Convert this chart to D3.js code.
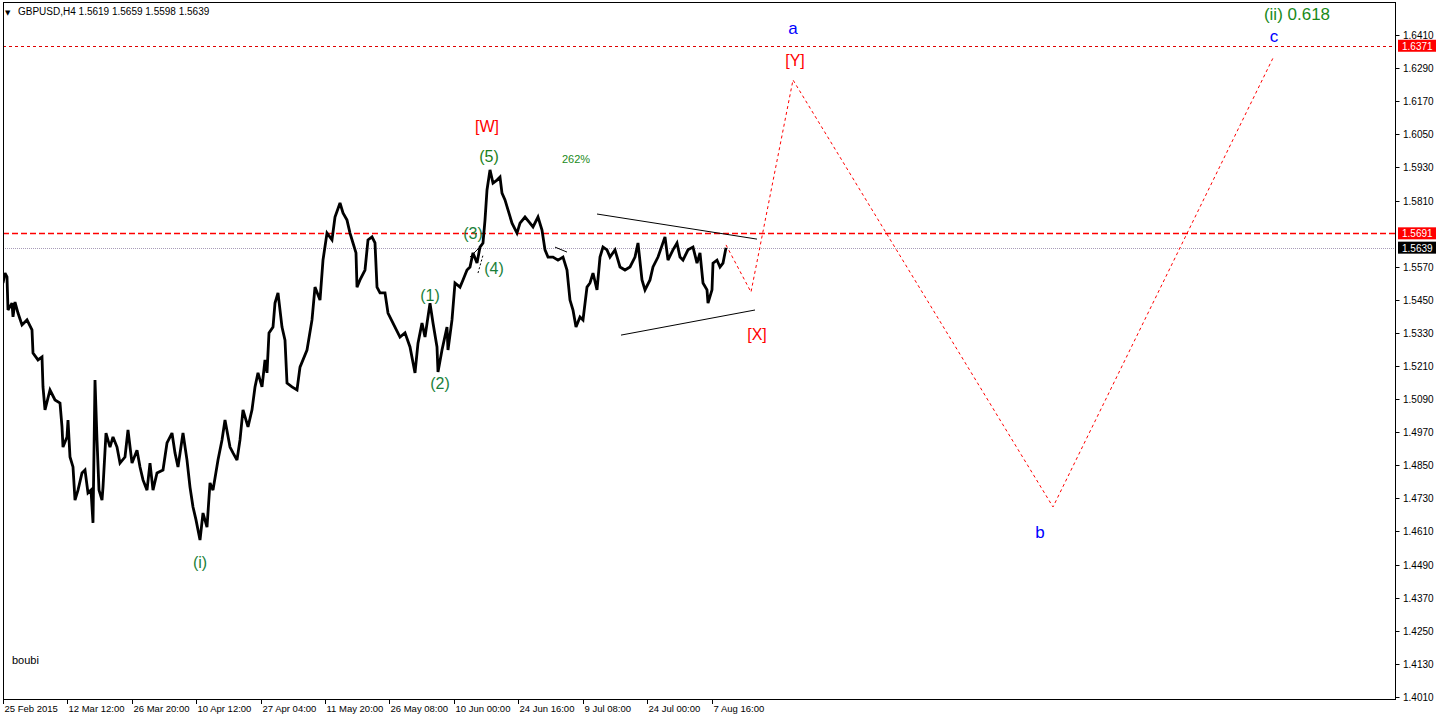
<!DOCTYPE html>
<html><head><meta charset="utf-8">
<script src="https://cdn.jsdelivr.net/npm/d3@7"></script>
<style>html,body{margin:0;padding:0;background:#fff;}svg{display:block;}</style>
</head><body>
<script>
// ---- DATA ----
const symbolTitle = "GBPUSD,H4  1.5619 1.5659 1.5598 1.5639";
const priceBars = [0,2,4,5,9,10,12,15,19,24,29,30,35,39,40,42,47,52,57,59,60,64,65,67,70,72,75,79,82,85,88,90,92,94,96,99,100,103,107,110,114,117,122,125,129,134,137,140,144,147,150,154,160,164,169,172,175,180,184,187,190,193,197,200,204,207,210,215,219,222,227,230,234,237,240,245,249,252,255,259,262,264,266,270,272,275,279,282,284,289,294,297,304,309,312,317,320,324,329,332,337,340,344,347,350,353,354,357,362,365,369,372,374,377,382,385,392,397,402,407,412,415,419,422,427,430,434,435,439,444,445,449,452,457,460,464,467,470,474,477,480,482,484,487,490,494,497,499,502,505,509,514,517,522,527,530,535,539,542,545,550,555,560,564,567,570,573,577,580,584,587,590,594,597,600,604,607,612,617,622,627,632,635,639,642,647,650,655,662,665,670,674,677,680,685,690,694,697,700,704,705,709,710,714,717,720,723];
const priceValues = [1.5511,1.5547,1.5533,1.5413,1.5438,1.5388,1.5442,1.5402,1.5359,1.5377,1.5341,1.5257,1.5232,1.5243,1.5134,1.5051,1.5123,1.5087,1.5076,1.4989,1.4916,1.4953,1.5014,1.4880,1.4844,1.4724,1.4760,1.4822,1.4833,1.4750,1.4760,1.4641,1.5159,1.4942,1.4760,1.4724,1.4771,1.4967,1.4916,1.4953,1.4916,1.4858,1.4880,1.4978,1.4858,1.4905,1.4844,1.4797,1.4760,1.4858,1.4760,1.4822,1.4833,1.4931,1.4967,1.4895,1.4844,1.4967,1.4869,1.4771,1.4699,1.4652,1.4579,1.4677,1.4626,1.4786,1.4760,1.4869,1.4942,1.5014,1.4916,1.4895,1.4869,1.4942,1.5051,1.4989,1.5051,1.5134,1.5185,1.5134,1.5232,1.5185,1.5330,1.5351,1.5438,1.5475,1.5351,1.5304,1.5148,1.5134,1.5123,1.5206,1.5268,1.5377,1.5496,1.5449,1.5594,1.5692,1.5667,1.5750,1.5801,1.5765,1.5739,1.5692,1.5656,1.5620,1.5496,1.5522,1.5558,1.5667,1.5678,1.5656,1.5496,1.5475,1.5475,1.5402,1.5351,1.5315,1.5330,1.5279,1.5185,1.5293,1.5366,1.5315,1.5438,1.5366,1.5279,1.5188,1.5268,1.5351,1.5268,1.5377,1.5511,1.5496,1.5522,1.5558,1.5569,1.5620,1.5583,1.5641,1.5656,1.5739,1.5848,1.5921,1.5873,1.5884,1.5895,1.5837,1.5812,1.5776,1.5728,1.5692,1.5728,1.5750,1.5728,1.5714,1.5750,1.5703,1.5631,1.5605,1.5605,1.5594,1.5605,1.5558,1.5449,1.5413,1.5351,1.5388,1.5377,1.5496,1.5511,1.5547,1.5486,1.5605,1.5641,1.5631,1.5605,1.5631,1.5569,1.5558,1.5569,1.5605,1.5656,1.5522,1.5486,1.5522,1.5569,1.5605,1.5678,1.5594,1.5631,1.5656,1.5605,1.5594,1.5631,1.5641,1.5583,1.5620,1.5511,1.5486,1.5438,1.5486,1.5583,1.5594,1.5569,1.5583,1.5639];

const projBars = [723,748,790,1050,1271];
const projValues = [1.5649,1.5478,1.6247,1.4699,1.6334];

const trendLines = [
  {bars:[594,754], values:[1.5761,1.5670], dash:null},
  {bars:[618,752], values:[1.5322,1.5413], dash:null},
  {bars:[467,479], values:[1.5605,1.5649], dash:null},
  {bars:[475,480], values:[1.5547,1.5612], dash:"2,2"},
  {bars:[552,564], values:[1.5641,1.5623], dash:null}
];

const levelRed1 = 1.6371, levelRed2 = 1.5691, bidLevel = 1.5639;
const priceTicks = [1.6410,1.6290,1.6170,1.6050,1.5930,1.5810,1.5570,1.5450,1.5330,1.5210,1.5090,1.4970,1.4850,1.4730,1.4610,1.4490,1.4370,1.4250,1.4130,1.4010];
const dateTickBars = [0,64,129,193,258,322,386,451,515,580,644,709];
const dateTickLabels = ["25 Feb 2015","12 Mar 12:00","26 Mar 20:00","10 Apr 12:00","27 Apr 04:00","11 May 20:00","26 May 08:00","10 Jun 00:00","24 Jun 16:00","9 Jul 08:00","24 Jul 00:00","7 Aug 16:00"];

const labelTexts  = ["a","[Y]","(ii)  0.618","c","[W]","(5)","262%","(3)","(4)","(1)","(2)","[X]","b","(i)"];
const labelBars   = [790,792,1294,1271,484,486,573,470,491,427,437,754,1037,197];
const labelValues = [1.6432,1.6316,1.6486,1.6403,1.6080,1.5971,1.5960,1.5689,1.5562,1.5467,1.5148,1.5326,1.4608,1.4499];
const labelColors = ["#0000ff","#ff0000","#1a8a1a","#0000ff","#ff0000","#1a7f1a","#1a8a1a","#1a7f3a","#1a7f3a","#1a7f3a","#1a7f3a","#ff0000","#0000ff","#1a7f3a"];
const labelSizes  = [17,16,17,17,16,16,11,16,16,16,16,16,17,16];

// ---- LAYOUT ----
const W = 1436, H = 717;
const L = 3, R = 1395, T = 2, B = 699;
const x = d3.scaleLinear().domain([0, R - L]).range([L, R]);
const y = d3.scaleLinear().domain([1.4010, 1.6410]).range([697, 35]);

const svg = d3.select("body").append("svg").attr("width", W).attr("height", H)
  .style("font-family", "'Liberation Sans', Arial, sans-serif");
svg.append("rect").attr("width", W).attr("height", H).attr("fill", "#fff");

svg.append("clipPath").attr("id","clip").append("rect")
  .attr("x", L).attr("y", T).attr("width", R - L).attr("height", B - T);
const plot = svg.append("g").attr("clip-path","url(#clip)");

// horizontal levels
plot.append("line").attr("x1", L).attr("x2", R).attr("y1", Math.round(y(levelRed1))+0.5).attr("y2", Math.round(y(levelRed1))+0.5)
  .attr("stroke", "#e00000").attr("stroke-dasharray", "3,3").attr("stroke-width", 1);
plot.append("line").attr("x1", L).attr("x2", R).attr("y1", Math.round(y(levelRed2))+0.5).attr("y2", Math.round(y(levelRed2))+0.5)
  .attr("stroke", "#ff0000").attr("stroke-dasharray", "6,3").attr("stroke-width", 1.3);
plot.append("line").attr("x1", L).attr("x2", R).attr("y1", Math.round(y(bidLevel))+0.5).attr("y2", Math.round(y(bidLevel))+0.5)
  .attr("stroke", "#a89cb8").attr("stroke-dasharray", "1,1").attr("stroke-width", 1);

// price series
const pts = priceBars.map((b, i) => [b, priceValues[i]]);
const line = d3.line().x(d => x(d[0])).y(d => y(d[1]));
plot.append("path").datum(pts).attr("d", line).attr("fill", "none")
  .attr("stroke", "#000").attr("stroke-width", 2.8).attr("stroke-linejoin", "miter").attr("stroke-miterlimit", 3);

// trend lines
trendLines.forEach(t => {
  plot.append("line").attr("x1", x(t.bars[0])).attr("y1", y(t.values[0]))
    .attr("x2", x(t.bars[1])).attr("y2", y(t.values[1]))
    .attr("stroke", "#000").attr("stroke-width", 1)
    .attr("stroke-dasharray", t.dash);
});

// projection
const proj = projBars.map((b, i) => [b, projValues[i]]);
plot.append("path").datum(proj).attr("d", line).attr("fill", "none")
  .attr("stroke", "#ff0000").attr("stroke-width", 1).attr("stroke-dasharray", "3,3");

// labels
labelTexts.forEach((t, i) => {
  plot.append("text").attr("x", x(labelBars[i])).attr("y", y(labelValues[i]))
    .attr("text-anchor", "middle").attr("dominant-baseline", "central")
    .attr("fill", labelColors[i]).attr("font-size", labelSizes[i]).text(t);
});

// frame
svg.append("rect").attr("x", L + 0.5).attr("y", T + 0.5).attr("width", R - L).attr("height", B - T)
  .attr("fill", "none").attr("stroke", "#000").attr("stroke-width", 1);

// right axis
const ax = svg.append("g").attr("font-size", 10).attr("fill", "#000");
priceTicks.forEach(v => {
  const yy = Math.round(y(v)) + 0.5;
  ax.append("line").attr("x1", R + 0.5).attr("x2", R + 4.5).attr("y1", yy).attr("y2", yy).attr("stroke", "#000");
  ax.append("text").attr("x", R + 8).attr("y", yy).attr("dominant-baseline", "central").text(v.toFixed(4));
});
[[levelRed1, "#ff0000"], [levelRed2, "#ff0000"], [bidLevel, "#000000"]].forEach(([v, c]) => {
  const yy = y(v);
  ax.append("rect").attr("x", R + 3).attr("y", yy - 6).attr("width", 38).attr("height", 12).attr("fill", c);
  ax.append("text").attr("x", R + 7).attr("y", yy + 0.5).attr("dominant-baseline", "central").attr("fill", "#fff").text(v.toFixed(4));
});

// bottom axis
const bx = svg.append("g").attr("font-size", 9.5).attr("fill", "#000");
dateTickBars.forEach((b, i) => {
  const xx = Math.round(x(b)) + 0.5;
  bx.append("line").attr("x1", xx).attr("x2", xx).attr("y1", B).attr("y2", B + 5).attr("stroke", "#000");
  bx.append("text").attr("x", xx + 1).attr("y", 712).text(dateTickLabels[i]);
});

// title & watermark
svg.append("text").attr("x", 5).attr("y", 14.5).attr("font-size", 7).attr("font-family", "DejaVu Sans").text("▼");
svg.append("text").attr("x", 18).attr("y", 15).attr("font-size", 10).text(symbolTitle);
svg.append("text").attr("x", 12).attr("y", 664).attr("font-size", 11).text("boubi");
</script>
</body></html>
